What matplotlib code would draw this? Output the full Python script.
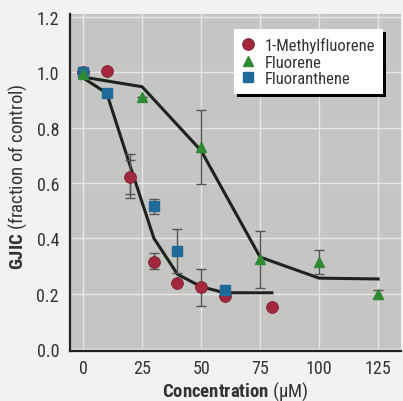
import matplotlib
matplotlib.use("Agg")
import matplotlib.pyplot as plt
from matplotlib import font_manager

# pick a condensed sans close to Helvetica Condensed
installed = {(f.name, f.weight) for f in font_manager.fontManager.ttflist}
fam = 'IBM Plex Sans Condensed'
for cand in ['Roboto Condensed', 'Archivo Narrow', 'IBM Plex Sans Condensed']:
    if (cand, 700) in installed and (cand, 400) in installed:
        fam = cand
        break

plt.rcParams['font.family'] = [fam, 'DejaVu Sans']
plt.rcParams['mathtext.fontset'] = 'custom'
plt.rcParams['mathtext.rm'] = fam
plt.rcParams['mathtext.bf'] = fam + ':bold'

# 1-Methylfluorene
mf_x = [0, 10, 20, 30, 40, 50, 60, 80]
mf_y = [1.0, 1.005, 0.62, 0.315, 0.24, 0.225, 0.19, 0.152]
mf_err_x = [20, 20, 30, 50]
mf_err_y = [0.625, 0.622, 0.318, 0.222]
mf_err = [0.08, 0.062, 0.028, 0.068]

# Fluorene
fl_x = [0, 25, 50, 75, 100, 125]
fl_y = [0.995, 0.91, 0.73, 0.325, 0.315, 0.198]
fl_err = [0, 0, 0.133, 0.103, 0.043, 0.015]

# Fluoranthene
fa_x = [0, 10, 30, 40, 60]
fa_y = [1.0, 0.925, 0.515, 0.355, 0.212]
fa_err = [0, 0, 0.027, 0.08, 0]

# fitted curves
fit1_x = [0, 10, 20, 30, 40, 50, 60, 80]
fit1_y = [0.98, 0.925, 0.66, 0.40, 0.27, 0.225, 0.203, 0.203]
fit2_x = [0, 25, 50, 75, 100, 125]
fit2_y = [0.983, 0.948, 0.717, 0.332, 0.256, 0.253]

red = '#a3283e'
green = '#2f8a32'
blue = '#1f6a98'

fig = plt.figure(figsize=(4.03, 4.02), dpi=100, facecolor='#f2f2f0')
ax = fig.add_axes([0.174, 0.124, 0.821, 0.838])
ax.set_facecolor('#c5c5c3')

ax.plot(fit1_x, fit1_y, color='#1c231c', lw=2.2, zorder=2)
ax.plot(fit2_x, fit2_y, color='#1c231c', lw=2.2, zorder=2)

ax.errorbar(mf_err_x, mf_err_y, yerr=mf_err, fmt='none', ecolor='#555555',
            elinewidth=1, capsize=3.5, capthick=1, zorder=2.5)
ax.errorbar(fl_x, fl_y, yerr=fl_err, fmt='none', ecolor='#555555',
            elinewidth=1, capsize=3.5, capthick=1, zorder=2.5)
ax.errorbar(fa_x, fa_y, yerr=fa_err, fmt='none', ecolor='#555555',
            elinewidth=1, capsize=3.5, capthick=1, zorder=2.5)

ax.plot(mf_x, mf_y, 'o', ms=8.5, color=red, mec='#7a2030', mew=0.6,
        ls='none', label='1-Methylfluorene', zorder=3)
ax.plot(fl_x, fl_y, '^', ms=7.5, color=green, mec=green, ls='none',
        label='Fluorene', zorder=5)
ax.plot(fa_x, fa_y, 's', ms=7.5, color=blue, mec=blue, ls='none',
        label='Fluoranthene', zorder=4)

leg = ax.legend(loc='upper right', bbox_to_anchor=(0.946, 0.955),
                borderaxespad=0, fontsize=12, labelspacing=0.1,
                handlelength=0.8, handletextpad=0.6, borderpad=0.45,
                fancybox=False, framealpha=1, edgecolor='white',
                shadow={'color': 'black', 'alpha': 1})
leg.get_frame().set_linewidth(0)
for t in leg.get_texts():
    t.set_color('#333333')

ax.set_xlim(-5.5, 134.7)
ax.set_ylim(-0.008, 1.21)
ax.set_xticks([0, 25, 50, 75, 100, 125])
ax.set_yticks([0.0, 0.2, 0.4, 0.6, 0.8, 1.0, 1.2])
ax.set_yticklabels(['0.0', '0.2', '0.4', '0.6', '0.8', '1.0', '1.2'])
ax.tick_params(length=0, labelsize=13, colors='#333333')
ax.tick_params(axis='x', pad=6)
ax.tick_params(axis='y', pad=8)
ax.grid(True, color='#e6e6e6', lw=1)
ax.set_axisbelow(True)

for s in ['top', 'right']:
    ax.spines[s].set_visible(False)
for s in ['left', 'bottom']:
    ax.spines[s].set_color('#222222')
    ax.spines[s].set_linewidth(1.6)

ax.set_xlabel(r'$\mathbf{Concentration}$ (μM)', fontsize=13.5, color='#333333')
ax.xaxis.set_label_coords(0.5, -0.083)
ax.set_ylabel(r'$\mathbf{GJIC}$ (fraction of control)', fontsize=13.5,
              color='#333333')
ax.yaxis.set_label_coords(-0.125, 0.52)

fig.savefig('out.png', dpi=100, facecolor=fig.get_facecolor())
